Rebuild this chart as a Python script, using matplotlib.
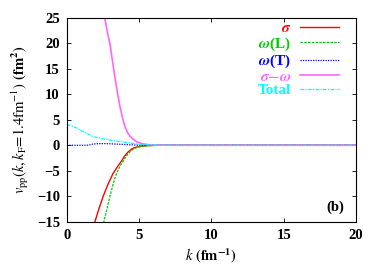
import matplotlib
matplotlib.use("Agg")
import matplotlib.pyplot as plt
import numpy as np

plt.rcParams['font.family'] = 'Liberation Serif'
plt.rcParams['mathtext.fontset'] = 'stix'

# --- data ---
k_sigma = [1.5, 1.94, 2.2, 2.51, 2.85, 3.2, 3.5, 3.78, 4.0, 4.24, 4.5, 4.7, 5.05, 5.5, 6.2, 8.0, 20.0]
v_sigma = [-22.0, -15.0, -12.6, -10.0, -7.6, -5.5, -4.2, -3.1, -2.1, -1.3, -0.7, -0.45, -0.2, -0.08, 0.0, 0.0, 0.0]

k_omL = [2.2, 2.56, 2.78, 2.98, 3.2, 3.44, 3.65, 3.9, 4.12, 4.36, 4.6, 4.82, 5.2, 5.7, 6.5, 8.0, 20.0]
v_omL = [-21.0, -15.0, -12.4, -10.0, -7.6, -5.5, -4.2, -3.1, -2.1, -1.3, -0.75, -0.45, -0.2, -0.08, 0.0, 0.0, 0.0]

k_omT = [0.0, 1.0, 1.5, 1.65, 1.82, 2.2, 2.6, 3.0, 3.5, 4.0, 4.5, 5.0, 6.0, 20.0]
v_omT = [0.0, 0.0, 0.02, 0.12, 0.25, 0.32, 0.33, 0.3, 0.22, 0.15, 0.08, 0.04, 0.0, 0.0]

k_sw = [2.3, 2.45, 2.63, 2.8, 2.98, 3.15, 3.32, 3.5, 3.67, 3.85, 4.01, 4.2, 4.36, 4.6, 4.82, 5.2, 5.74, 6.5, 7.5, 20.0]
v_sw = [32.0, 28.2, 24.8, 22.2, 19.9, 16.6, 13.4, 10.3, 7.6, 5.4, 3.7, 2.5, 1.8, 1.15, 0.7, 0.3, 0.08, 0.02, 0.0, 0.0]

k_tot = [0.0, 0.3, 0.6, 0.9, 1.2, 1.5, 1.82, 2.2, 2.6, 2.98, 3.5, 4.13, 4.9, 5.6, 6.5, 8.0, 20.0]
v_tot = [4.0, 3.9, 3.5, 3.0, 2.6, 2.15, 1.7, 1.45, 1.22, 1.03, 0.8, 0.55, 0.25, 0.1, 0.03, 0.0, 0.0]

fig = plt.figure(figsize=(3.82, 2.67), dpi=100)
ax = fig.add_axes([0.175, 0.169, 0.757, 0.765])

ax.plot(k_sigma, v_sigma, color='#ff0000', lw=1.0, ls='-', label=r'$\mathbfit{\sigma}$')
ax.plot(k_omL, v_omL, color='#00cc00', lw=0.9, ls=(0, (2, 1)), label=r'$\mathbfit{\omega}$(L)')
ax.plot(k_omT, v_omT, color='#0000ff', lw=0.9, ls=(0, (1, 1)), label=r'$\mathbfit{\omega}$(T)')
ax.plot(k_sw, v_sw, color='#ff66ff', lw=1.2, ls='-', label=r'$\mathbfit{\sigma}$$\mathbf{-}$$\mathbfit{\omega}$')
ax.plot(k_tot, v_tot, color='#00ffff', lw=0.9, ls=(0, (3, 1, 1, 1)), label='Total')

ax.set_xlim(0, 20)
ax.set_ylim(-15, 25)
ax.set_xticks([0, 5, 10, 15, 20])
ax.set_yticks(np.arange(-15, 26, 5))
ax.tick_params(direction='in', top=True, right=True, length=3, width=0.6, labelsize=10.5, pad=5)
for lab in ax.get_xticklabels() + ax.get_yticklabels():
    lab.set_fontweight('bold')
for s in ax.spines.values():
    s.set_linewidth(0.8)

ax.set_xlabel(r'$k$ $\mathbf{(fm^{-1})}$', fontsize=10.5, labelpad=3)
ax.set_ylabel(r'$v_{\rm pp}(k,k_{\rm F}\!=\!1.4{\rm fm}^{-1})$ $\mathbf{(fm^{2})}$', fontsize=10.5, labelpad=4)

leg = ax.legend(loc='upper right', bbox_to_anchor=(0.94, 0.98), frameon=False, markerfirst=False,
                handlelength=2.5, labelspacing=0.0, borderaxespad=0.0, borderpad=0.0,
                handletextpad=0.6, labelcolor='linecolor', prop={'weight': 'bold', 'size': 11})
# right-align the labels against the line samples, gnuplot style
for col in leg._legend_handle_box.get_children():
    col.align = 'right'

ax.text(0.96, 0.04, '(b)', transform=ax.transAxes, ha='right', va='bottom',
        fontsize=10.5, fontweight='bold')

fig.savefig('out.png', dpi=100)
